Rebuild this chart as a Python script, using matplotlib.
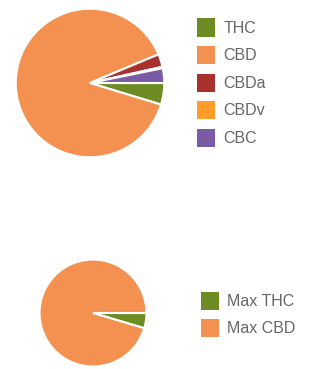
import matplotlib
matplotlib.use("Agg")
import matplotlib.pyplot as plt

plt.rcParams['font.family'] = ['Liberation Sans', 'DejaVu Sans']

# top pie: cannabinoid profile
labels_top = ['THC', 'CBD', 'CBDa', 'CBDv', 'CBC']
values_top = [4.7, 89.0, 2.8, 0.3, 3.2]
colors_top = ['#6d8d24', '#f59150', '#a8312d', '#fd9b2b', '#7a5ca6']

# bottom pie: max values
labels_bot = ['Max THC', 'Max CBD']
values_bot = [4.6, 95.4]
colors_bot = ['#6d8d24', '#f59150']

W, H = 315, 369
fig = plt.figure(figsize=(W / 100, H / 100), dpi=100)

def px_axes(x, y, w, h):
    # axes from pixel box (top-left origin)
    return fig.add_axes([x / W, 1 - (y + h) / H, w / W, h / H])

wp = dict(edgecolor='white', linewidth=1.5)

ax1 = px_axes(15, 8, 150, 150)
w1, _ = ax1.pie(values_top, colors=colors_top, startangle=0, counterclock=False,
                wedgeprops=wp)
ax1.set_xlim(-1.01, 1.01)
ax1.set_ylim(-1.01, 1.01)
ax1.set_aspect('equal')

ax2 = px_axes(39, 259, 108, 108)
w2, _ = ax2.pie(values_bot, colors=colors_bot, startangle=0, counterclock=False,
                wedgeprops=wp)
ax2.set_xlim(-1.01, 1.01)
ax2.set_ylim(-1.01, 1.01)
ax2.set_aspect('equal')

# legend handles: plain squares, no white edge
def squares(colors):
    return [plt.Rectangle((0, 0), 1, 1, facecolor=c, edgecolor='none') for c in colors]

leg_kw = dict(frameon=False, loc='upper left', borderpad=0, borderaxespad=0,
              handlelength=1.15, handleheight=1.38, handletextpad=0.5,
              labelspacing=0.58, fontsize=11.5, labelcolor='#666666')

fig.legend(squares(colors_top), labels_top, bbox_to_anchor=(197 / W, 1 - 18.5 / H), **leg_kw)
fig.legend(squares(colors_bot), labels_bot, bbox_to_anchor=(201 / W, 1 - 291.5 / H), **leg_kw)

fig.savefig('out.png', dpi=100)
